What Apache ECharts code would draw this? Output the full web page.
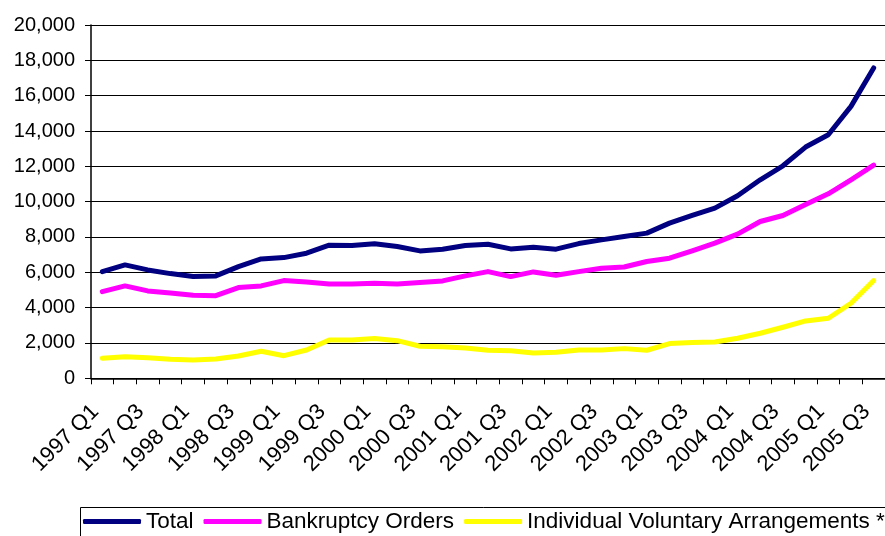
<!DOCTYPE html>
<html>
<head>
<meta charset="utf-8">
<script src="https://cdn.jsdelivr.net/npm/echarts@6/dist/echarts.min.js"></script>
<style>html,body{margin:0;padding:0;background:#fff;}#chart{width:885px;height:536px;}</style>
</head>
<body>
<div id="chart"></div>
<script>
var categories = [
  '1997 Q1','1997 Q2','1997 Q3','1997 Q4',
  '1998 Q1','1998 Q2','1998 Q3','1998 Q4',
  '1999 Q1','1999 Q2','1999 Q3','1999 Q4',
  '2000 Q1','2000 Q2','2000 Q3','2000 Q4',
  '2001 Q1','2001 Q2','2001 Q3','2001 Q4',
  '2002 Q1','2002 Q2','2002 Q3','2002 Q4',
  '2003 Q1','2003 Q2','2003 Q3','2003 Q4',
  '2004 Q1','2004 Q2','2004 Q3','2004 Q4',
  '2005 Q1','2005 Q2','2005 Q3'
];
var total = [
  6040, 6420, 6136, 5927, 5757, 5796, 6323, 6760, 6833, 7083, 7536, 7513,
  7620, 7457, 7213, 7309, 7513, 7592, 7326, 7422, 7309, 7626, 7836, 8030,
  8217, 8783, 9218, 9633, 10332, 11239, 12032, 13090, 13789, 15394, 17566
];
var bankruptcyOrders = [
  4907, 5230, 4946, 4833, 4703, 4680, 5134, 5230, 5530, 5456, 5343, 5343,
  5383, 5343, 5417, 5513, 5796, 6040, 5757, 6023, 5836, 6040, 6233, 6300,
  6611, 6800, 7215, 7650, 8160, 8878, 9218, 9841, 10445, 11239, 12070
];
var iva = [
  1133, 1224, 1167, 1076, 1037, 1094, 1264, 1530, 1281, 1603, 2170, 2170,
  2250, 2130, 1813, 1790, 1717, 1586, 1564, 1433, 1473, 1603, 1603, 1680,
  1587, 1964, 2021, 2059, 2267, 2550, 2890, 3249, 3400, 4250, 5534
];
var yTicks = { min: 0, max: 20000, interval: 2000 };
var seriesNames = ['Total', 'Bankruptcy Orders', 'Individual Voluntary Arrangements *'];
var seriesColors = ['#000080', '#FF00FF', '#FFFF00'];

var FONT = '"Liberation Sans", Arial, sans-serif';
var chart = echarts.init(document.getElementById('chart'), null, { renderer: 'canvas' });

function mkSeries(name, data, color) {
  return {
    name: name, type: 'line', data: data, showSymbol: false, symbol: 'none',
    lineStyle: { color: color, width: 5, cap: 'round', join: 'round' },
    itemStyle: { color: color },
    animation: false
  };
}

chart.setOption({
  animation: false,
  backgroundColor: '#ffffff',
  textStyle: { fontFamily: FONT },
  grid: { left: 91, top: 25, width: 800, height: 353.3, containLabel: false },
  graphic: [{
    type: 'rect', left: 78, top: 505,
    shape: { x: 0, y: 0, width: 900, height: 40 },
    style: { fill: 'none', stroke: '#000', lineWidth: 1 }, z: 100
  }],
  legend: {
    left: 83, top: 510, padding: 0, itemGap: 10,
    itemWidth: 58, itemHeight: 5, icon: 'roundRect',
    textStyle: { fontFamily: FONT, fontSize: 22.5, color: '#000', lineHeight: 22 },
    data: seriesNames.map(function (n, i) { return { name: n, itemStyle: { color: seriesColors[i] } }; })
  },
  xAxis: {
    type: 'category', data: categories, boundaryGap: true,
    axisLine: { show: true, lineStyle: { color: '#000', width: 1.5 } },
    axisTick: { show: true, inside: false, length: 6, interval: 0, alignWithLabel: false, lineStyle: { color: '#000', width: 1 } },
    axisLabel: { interval: 1, rotate: 45, margin: 23, padding: [0, 10, 0, 0], fontSize: 22, color: '#000', fontFamily: FONT },
    splitLine: { show: false }
  },
  yAxis: {
    type: 'value', min: yTicks.min, max: yTicks.max, interval: yTicks.interval,
    axisLine: { show: true, lineStyle: { color: '#000', width: 1.5 } },
    axisTick: { show: true, inside: false, length: 6, lineStyle: { color: '#000', width: 1 } },
    axisLabel: {
      margin: 16, fontSize: 20, color: '#000', fontFamily: FONT,
      formatter: function (v) { return v.toLocaleString('en-US'); }
    },
    splitLine: { show: true, lineStyle: { color: '#000', width: 1 } }
  },
  series: [
    mkSeries(seriesNames[0], total, seriesColors[0]),
    mkSeries(seriesNames[1], bankruptcyOrders, seriesColors[1]),
    mkSeries(seriesNames[2], iva, seriesColors[2])
  ]
});
</script>
</body>
</html>
